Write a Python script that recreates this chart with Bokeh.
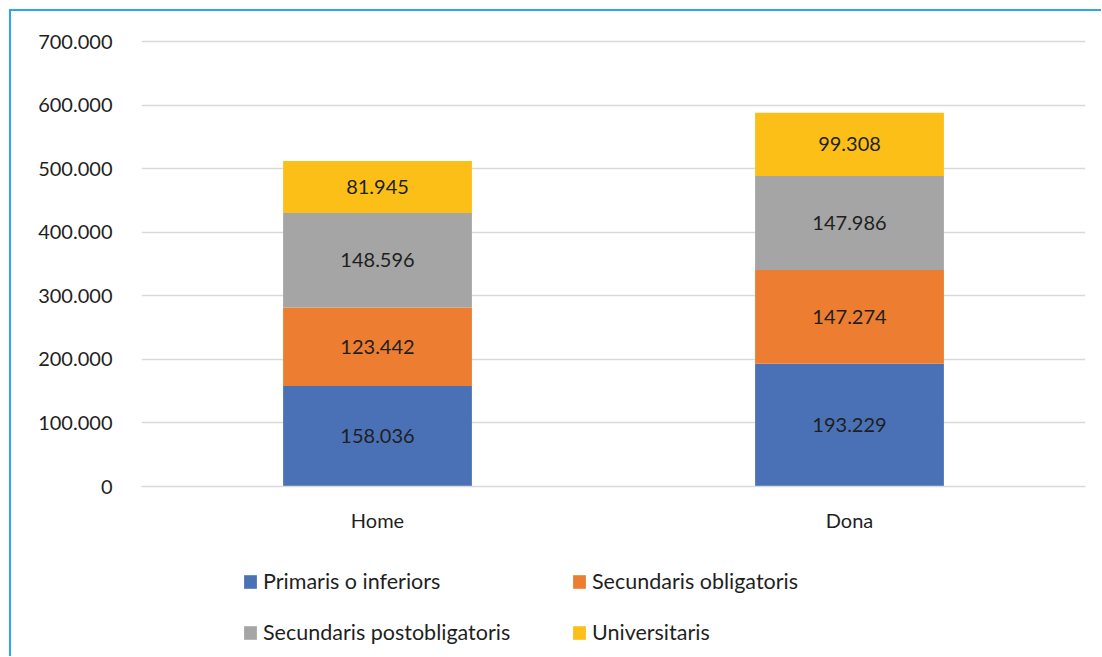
from bokeh.plotting import figure
from bokeh.layouts import column
from bokeh.models import (ColumnDataSource, FactorRange, Range1d, FixedTicker,
                          Legend, LegendItem, CustomJSTickFormatter)
from bokeh.core.properties import value
from bokeh.embed import file_html
from bokeh.resources import INLINE

categories = ["Home", "Dona"]
series_names = ["Primaris o inferiors", "Secundaris obligatoris",
                "Secundaris postobligatoris", "Universitaris"]
primaris = [158036, 193229]
sec_oblig = [123442, 147274]
sec_postoblig = [148596, 147986]
universitaris = [81945, 99308]
y_ticks = [0, 100000, 200000, 300000, 400000, 500000, 600000, 700000]
colors = ["#4A71B6", "#ED7D31", "#A5A5A5", "#FCBF18"]

keys = ["primaris", "sec_oblig", "sec_postoblig", "universitaris"]
series = [primaris, sec_oblig, sec_postoblig, universitaris]

source = ColumnDataSource(dict(cat=categories, primaris=primaris, sec_oblig=sec_oblig,
                               sec_postoblig=sec_postoblig, universitaris=universitaris))

FONT = "Lato"
TXT = "#1F1F1F"
W = 1090

p = figure(x_range=FactorRange(*categories, range_padding=0),
           y_range=Range1d(0, 700000 * 449 / 445),
           width=W, height=544, output_backend="svg", toolbar_location=None,
           min_border_left=130, min_border_right=16, min_border_top=26, min_border_bottom=69)
p.outline_line_color = None
p.background_fill_color = "white"
p.border_fill_color = "white"

renderers = p.vbar_stack(keys, x="cat", width=0.4, color=colors, source=source, line_color=None)

lab_x, lab_y, lab_t = [], [], []
for i, c in enumerate(categories):
    base = 0
    for s in series:
        v = s[i]
        lab_x.append(c)
        lab_y.append(base + v / 2)
        lab_t.append(f"{v:,}".replace(",", "."))
        base += v
p.text(x=lab_x, y=lab_y, text=lab_t, text_align="center", text_baseline="middle",
       text_font=value(FONT), text_font_size="20px", text_color=TXT)

p.yaxis.ticker = FixedTicker(ticks=y_ticks)
p.yaxis.formatter = CustomJSTickFormatter(code="""
return tick.toFixed(0).replace(/\\B(?=(\\d{3})+(?!\\d))/g, '.');
""")
p.yaxis.axis_line_color = None
p.yaxis.major_tick_line_color = None
p.yaxis.minor_tick_line_color = None
p.yaxis.major_label_standoff = 23
p.yaxis.major_label_text_font = FONT
p.yaxis.major_label_text_font_size = "20px"
p.yaxis.major_label_text_color = TXT

p.xaxis.axis_line_color = "#D9D9D9"
p.xaxis.axis_line_width = 1.5
p.xaxis.major_tick_line_color = None
p.xaxis.minor_tick_line_color = None
p.xaxis.major_label_standoff = 15
p.xaxis.major_label_text_font = FONT
p.xaxis.major_label_text_font_size = "20px"
p.xaxis.major_label_text_color = TXT

p.xgrid.grid_line_color = None
p.ygrid.grid_line_color = "#D9D9D9"
p.ygrid.grid_line_width = 1.5
p.ygrid.ticker = FixedTicker(ticks=y_ticks)

# legend panel: a second figure with swatch-only renderers (no visible data)
lf = figure(width=W, height=101, output_backend="svg", toolbar_location=None,
            x_axis_location=None, y_axis_location=None,
            min_border_left=0, min_border_right=0, min_border_top=0, min_border_bottom=0,
            x_range=Range1d(0, 1), y_range=Range1d(0, 1))
lf.outline_line_color = None
lf.grid.grid_line_color = None
nan = float("nan")
empty = ColumnDataSource(dict(x=[nan], top=[nan]))
swatches = [lf.vbar(x="x", top="top", width=0.1, color=c, source=empty, line_color=None)
            for c in colors]

def make_legend(idx, loc):
    items = [LegendItem(label=series_names[i], renderers=[swatches[i]]) for i in idx]
    return Legend(items=items, orientation="horizontal", location=loc,
                  glyph_width=16, glyph_height=17, label_standoff=5, label_width=295,
                  spacing=13, padding=0, margin=0, border_line_color=None,
                  background_fill_alpha=0, label_height=22,
                  label_text_font=FONT, label_text_font_size="21.5px", label_text_color=TXT)

lf.add_layout(make_legend([0, 1], (101, 62)), "center")
lf.add_layout(make_legend([2, 3], (101, 11)), "center")

layout = column(p, lf, spacing=0)
layout.styles = {"margin-left": "9px", "margin-top": "9px",
                 "border-top": "2px solid #2AA9EA", "border-left": "2px solid #2AA9EA"}

open("out.html", "w").write(file_html(layout, INLINE))
